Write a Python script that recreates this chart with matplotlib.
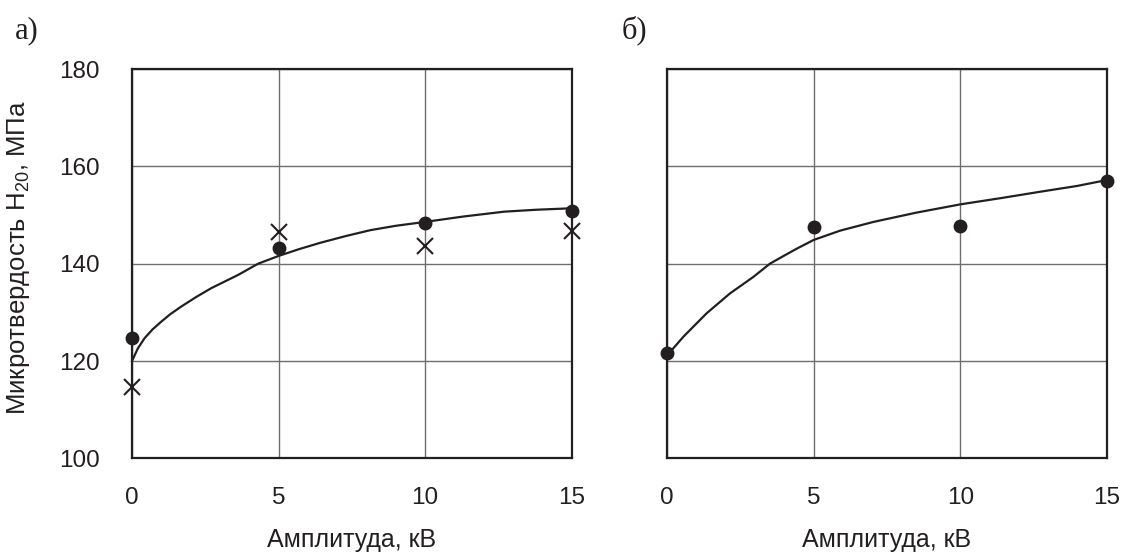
import matplotlib
matplotlib.use("Agg")
import matplotlib.pyplot as plt

plt.rcParams['font.family'] = ['Liberation Sans', 'DejaVu Sans']
plt.rcParams['mathtext.fontset'] = 'custom'
plt.rcParams['mathtext.rm'] = 'Liberation Sans'
plt.rcParams['mathtext.default'] = 'regular'

INK = '#231f20'

# Panel a)
a_x = [0, 5, 10, 15]
a_dots = [124.7, 143.2, 148.4, 150.8]
a_cross = [114.7, 146.6, 143.6, 146.8]
a_curve_x = [0, 0.2, 0.43, 0.7, 1.0, 1.3, 1.68, 2.2, 2.71, 3.62, 4.3, 5.0, 5.7, 6.42, 7.3, 8.13, 9.0, 10, 11.3, 12.69, 13.8, 15]
a_curve_y = [120.0, 122.6, 124.7, 126.5, 128.1, 129.6, 131.2, 133.2, 135.0, 137.7, 140.0, 141.6, 143.0, 144.3, 145.7, 146.9, 147.8, 148.6, 149.7, 150.7, 151.1, 151.4]

# Panel б)
b_x = [0, 5, 10, 15]
b_dots = [121.6, 147.5, 147.8, 157.0]
b_curve_x = [0, 0.55, 1.34, 2.14, 2.94, 3.5, 4.0, 4.42, 5.0, 5.9, 7.04, 8.5, 10, 11.4, 12.73, 14.0, 15]
b_curve_y = [121.2, 125.0, 129.8, 133.9, 137.3, 140.0, 141.7, 143.1, 144.9, 146.8, 148.6, 150.5, 152.2, 153.5, 154.8, 156.0, 157.2]

x_ticks = [0, 5, 10, 15]
y_ticks = [100, 120, 140, 160, 180]
xlabel = 'Амплитуда, кВ'
ylabel = 'Микротвердость H$_{20}$, МПа'

fig = plt.figure(figsize=(11.26, 5.54), dpi=100)
axA = fig.add_axes([132/1126, 0.1727, 439.7/1126, 0.7025])
axB = fig.add_axes([667.3/1126, 0.1727, 439.4/1126, 0.7025])

for ax in (axA, axB):
    ax.set_xlim(0, 15)
    ax.set_ylim(100, 180)
    ax.set_xticks(x_ticks)
    ax.set_yticks(y_ticks)
    ax.grid(True, color='#6e6e6e', lw=1.0)
    ax.set_axisbelow(True)
    for s in ax.spines.values():
        s.set_linewidth(1.6)
        s.set_color(INK)
        s.set_zorder(5)
    ax.tick_params(axis='x', length=0, pad=21, labelsize=17.5, labelcolor=INK)
    ax.tick_params(axis='y', length=0, pad=23, labelsize=17.5, labelcolor=INK)
    ax.set_xlabel(xlabel, fontsize=18, color=INK)
    ax.xaxis.set_label_coords(0.5, -0.178)
    ax.xaxis.label.set_va('top')

axA.set_ylabel(ylabel, fontsize=18.5, color=INK)
axA.yaxis.set_label_coords(-0.228, 0.515)
axB.tick_params(axis='y', labelleft=False)

axA.plot(a_curve_x, a_curve_y, color=INK, lw=1.6, zorder=3, clip_on=False)
axA.plot(a_x, a_dots, 'o', color=INK, ms=9, zorder=6, clip_on=False)
axA.plot(a_x, a_cross, 'x', color=INK, ms=12, mew=1.5, zorder=6, clip_on=False)

axB.plot(b_curve_x, b_curve_y, color=INK, lw=1.6, zorder=3, clip_on=False)
axB.plot(b_x, b_dots, 'o', color=INK, ms=9, zorder=6, clip_on=False)

fig.text(15/1126, 1 - 38/554, 'а)', family=['Liberation Serif'], fontsize=22, color=INK, va='baseline')
fig.text(622/1126, 1 - 38/554, 'б)', family=['Liberation Serif'], fontsize=22, color=INK, va='baseline')

fig.savefig('out.png', dpi=100)
